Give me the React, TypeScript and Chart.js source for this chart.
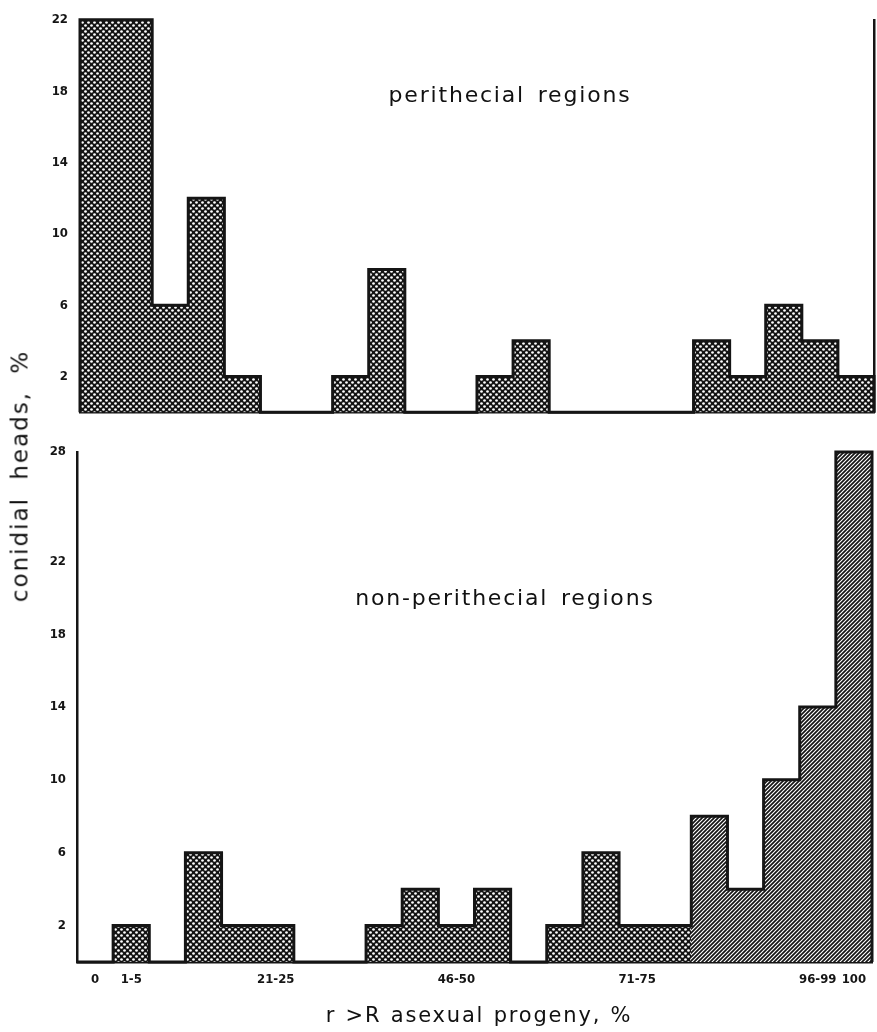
import React, { useEffect, useRef } from "react";
import { Chart, registerables } from "chart.js";

Chart.register(...registerables);

// ---- data ----
const binLabels = [
  "0", "1-5", "6-10", "11-15", "16-20", "21-25", "26-30", "31-35", "36-40", "41-45", "46-50",
  "51-55", "56-60", "61-65", "66-70", "71-75", "76-80", "81-85", "86-90", "91-95", "96-99", "100",
];
const labeledBins = [0, 1, 5, 10, 15, 20, 21];
const perithecialValues = [22, 22, 6, 12, 2, 0, 0, 2, 8, 0, 0, 2, 4, 0, 0, 0, 0, 4, 2, 6, 4, 2];
const nonPerithecialValues = [0, 2, 0, 6, 2, 2, 0, 0, 2, 4, 2, 4, 0, 2, 6, 2, 2, 8, 4, 10, 14, 28];
const perithecialTicks = [2, 6, 10, 14, 18, 22];
const nonPerithecialTicks = [2, 6, 10, 14, 18, 22, 28];
const perithecialMax = 22;
const nonPerithecialMax = 28;

const topLabel = "perithecial regions";
const bottomLabel = "non-perithecial regions";
const xTitle = "r >R asexual progeny, %";
const yTitle = "conidial heads, %";

// ---- style ----
const INK = "#151515";
const TICK_FONT = {
  family: "'DejaVu Sans Condensed', 'DejaVu Sans', sans-serif",
  size: 13,
  weight: "bold" as const,
};
const TEXT_FONT = "'DejaVu Sans', 'Noto Sans', sans-serif";

function makeDotPattern(ctx: CanvasRenderingContext2D) {
  const t = document.createElement("canvas");
  t.width = 6;
  t.height = 6;
  const c = t.getContext("2d")!;
  c.fillStyle = "#141414";
  c.fillRect(0, 0, 6, 6);
  c.fillStyle = "#ffffff";
  for (const [x, y] of [[1.5, 1.5], [4.5, 4.5]]) {
    c.beginPath();
    c.arc(x, y, 1.35, 0, Math.PI * 2);
    c.fill();
  }
  return ctx.createPattern(t, "repeat")!;
}

function makeHatchPattern(ctx: CanvasRenderingContext2D) {
  const t = document.createElement("canvas");
  t.width = 4;
  t.height = 4;
  const c = t.getContext("2d")!;
  c.fillStyle = "#141414";
  c.fillRect(0, 0, 4, 4);
  c.strokeStyle = "#ffffff";
  c.lineWidth = 1.15;
  c.beginPath();
  c.moveTo(-1, 5);
  c.lineTo(5, -1);
  c.moveTo(-1, 1);
  c.lineTo(1, -1);
  c.moveTo(3, 5);
  c.lineTo(5, 3);
  c.stroke();
  return ctx.createPattern(t, "repeat")!;
}

function outlinePoints(values: number[]) {
  const pts = [{ x: 0, y: 0 }];
  values.forEach((v, i) => pts.push({ x: i, y: v }));
  pts.push({ x: values.length, y: values[values.length - 1] });
  pts.push({ x: values.length, y: 0 });
  return pts;
}

type PanelOpts = {
  values: number[];
  ticks: number[];
  max: number;
  showXTicks: boolean;
  rightLine: boolean;
  padding: { top: number; right: number; left: number; bottom: number };
  yWidth: number;
  xHeight: number;
  hatchFrom: number;
  yPad: number;
};

function buildChart(canvas: HTMLCanvasElement, o: PanelOpts) {
  const ctx = canvas.getContext("2d")!;
  const dots = makeDotPattern(ctx);
  const hatch = makeHatchPattern(ctx);
  const n = o.values.length;

  const scales: any = {
    x: {
      type: "linear",
      min: 0,
      max: n,
      offset: false,
      grid: { display: false, drawTicks: false },
      border: { display: true, color: INK, width: 2.5 },
      afterBuildTicks: (s: any) => {
        s.ticks = labeledBins.map((i) => ({ value: i + 0.5 }));
      },
      afterFit: (s: any) => {
        s.height = o.xHeight;
      },
      ticks: {
        display: o.showXTicks,
        autoSkip: false,
        maxRotation: 0,
        padding: 10,
        color: INK,
        font: TICK_FONT,
        callback: (v: number) => binLabels[Math.round(v - 0.5)],
      },
    },
    y: {
      type: "linear",
      position: "left",
      min: 0,
      max: o.max,
      grid: { display: false, drawTicks: false },
      border: { display: true, color: INK, width: 2.5 },
      afterBuildTicks: (s: any) => {
        s.ticks = o.ticks.map((v) => ({ value: v }));
      },
      afterFit: (s: any) => {
        s.width = o.yWidth;
      },
      ticks: { padding: o.yPad, color: INK, font: TICK_FONT },
    },
  };
  if (o.rightLine) {
    scales.yRight = {
      type: "linear",
      position: "right",
      min: 0,
      max: o.max,
      grid: { display: false, drawTicks: false },
      border: { display: true, color: INK, width: 2.5 },
      ticks: { display: false },
      afterFit: (s: any) => {
        s.width = 3;
      },
    };
  }

  return new Chart(ctx, {
    type: "bar",
    data: {
      datasets: [
        {
          type: "line",
          data: outlinePoints(o.values),
          stepped: true,
          borderColor: INK,
          borderWidth: 3,
          borderJoinStyle: "miter",
          pointRadius: 0,
          fill: false,
          clip: false,
          order: 0,
        } as any,
        {
          type: "bar",
          data: o.values.map((v, i) => ({ x: i + 0.5, y: v })),
          backgroundColor: (c: any) => (c.dataIndex >= o.hatchFrom ? hatch : dots),
          borderWidth: 0,
          barPercentage: 1,
          categoryPercentage: 1,
          order: 1,
        } as any,
      ],
    },
    options: {
      responsive: false,
      devicePixelRatio: 1,
      animation: false,
      events: [],
      layout: { padding: o.padding },
      plugins: { legend: { display: false }, tooltip: { enabled: false }, title: { display: false } },
      scales,
    },
  });
}

const textStyle = (cx: number, cy: number, size: number, extra: any = {}): React.CSSProperties => ({
  position: "absolute",
  left: cx,
  top: cy,
  transform: "translate(-50%, -50%)",
  whiteSpace: "nowrap",
  fontFamily: TEXT_FONT,
  fontSize: size,
  lineHeight: 1,
  color: "#111",
  letterSpacing: "1.8px",
  wordSpacing: "4px",
  ...extra,
});

export default function App() {
  const topRef = useRef<HTMLCanvasElement>(null);
  const botRef = useRef<HTMLCanvasElement>(null);

  useEffect(() => {
    const top = buildChart(topRef.current!, {
      values: perithecialValues,
      ticks: perithecialTicks,
      max: perithecialMax,
      showXTicks: false,
      rightLine: true,
      padding: { top: 15, right: 0, left: 0, bottom: 0 },
      yWidth: 80,
      xHeight: 17,
      hatchFrom: Infinity,
      yPad: 12,
    });
    const bot = buildChart(botRef.current!, {
      values: nonPerithecialValues,
      ticks: nonPerithecialTicks,
      max: nonPerithecialMax,
      showXTicks: true,
      rightLine: false,
      padding: { top: 22, right: 5, left: 0, bottom: 0 },
      yWidth: 77,
      xHeight: 70,
      hatchFrom: 17,
      yPad: 11,
    });
    return () => {
      top.destroy();
      bot.destroy();
    };
  }, []);

  return (
    <div style={{ position: "absolute", left: 0, top: 0, width: 877, height: 1032, background: "#fff", overflow: "hidden" }}>
      <canvas ref={topRef} width={877} height={432} style={{ position: "absolute", left: 0, top: 0 }} />
      <canvas ref={botRef} width={877} height={602} style={{ position: "absolute", left: 0, top: 430 }} />
      <div style={textStyle(510, 95, 22)}>{topLabel}</div>
      <div style={textStyle(505, 598, 22)}>{bottomLabel}</div>
      <div style={textStyle(479, 1015, 21, { letterSpacing: "1.8px", wordSpacing: "1px" })}>{xTitle}</div>
      <div style={textStyle(20, 476, 23, { transform: "translate(-50%, -50%) rotate(-90deg)", letterSpacing: "2px", wordSpacing: "8px" })}>
        {yTitle}
      </div>
    </div>
  );
}
